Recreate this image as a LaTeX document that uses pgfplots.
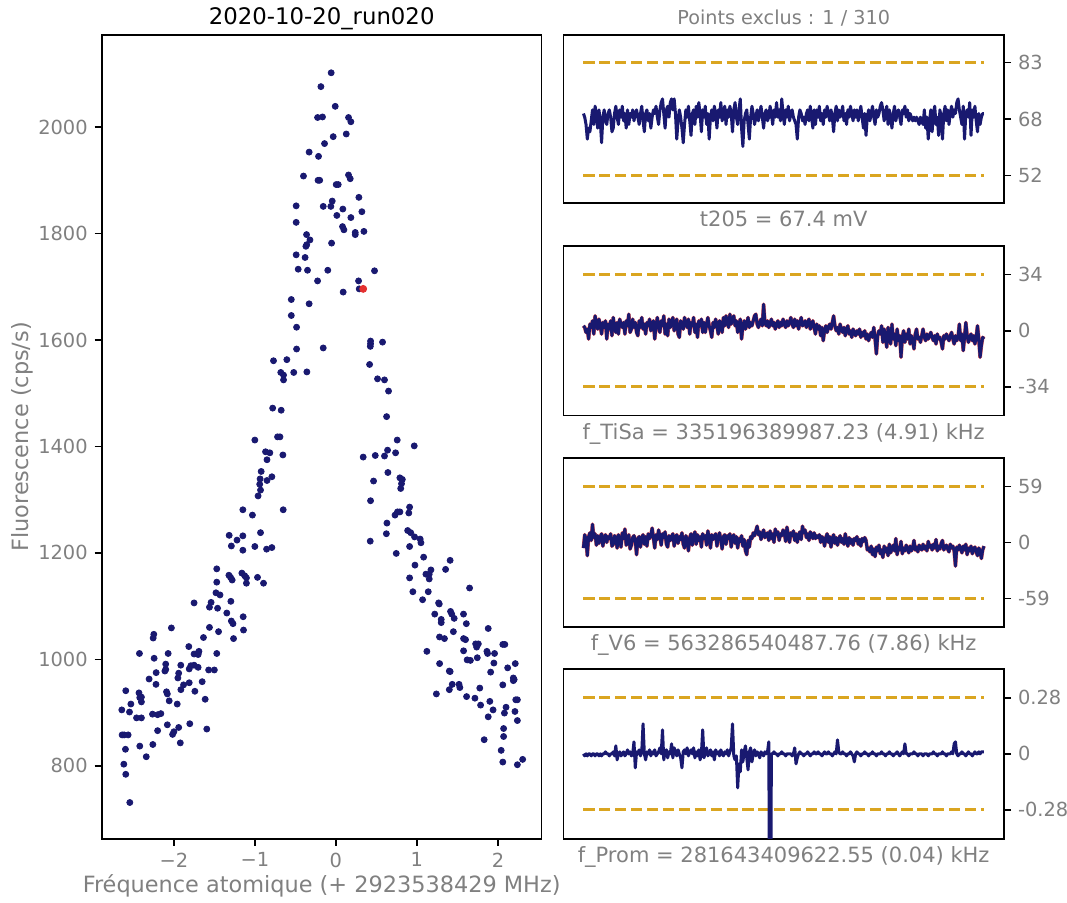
\documentclass[border=0pt]{standalone}
\usepackage{pgfplots}
\pgfplotsset{compat=1.18}
\usepackage{pgfplotstable}
\usepackage{fontspec}
\setmainfont{DejaVu Sans}

\definecolor{navy}{RGB}{25,25,112}
\definecolor{ptred}{RGB}{228,48,48}
\definecolor{halo}{RGB}{240,95,85}
\definecolor{gold}{RGB}{218,165,32}
\definecolor{txt}{RGB}{128,128,128}

\pgfplotsset{
  base/.style={
    scale only axis,
    anchor=south west,
    /pgf/number format/assume math mode=true,
    tick align=outside,
    major tick length=3.5pt,
    tick style={black, line width=0.8pt},
    axis line style={line width=0.8pt},
    ticklabel style={text=txt, font=\fontsize{9.7}{11}\selectfont},
    every axis title shift=0pt,
    every axis title/.style={at={(axis description cs:0.5,1)}, anchor=base, yshift=5.3pt},
  },
  side/.style={base,
    width=220.3pt,
    xmin=-15.45, xmax=324.45,
    xtick=\empty,
    ytick pos=right, yticklabel pos=right,
    xlabel style={at={(0.5,0)}, anchor=base, yshift=-11.8pt, text=txt, font=\fontsize{10.5}{12}\selectfont},
  },
  limit/.style={gold, line width=1.5pt, dash pattern=on 5.55pt off 2.4pt},
  trace/.style={navy, line width=1.5pt, line join=round},
  under/.style={halo, line width=1.85pt, line join=round},
}

% t205 (mV)
\pgfplotstableread[row sep=\\, header=false]{
69\\ 68\\ 66\\ 62\\ 65\\ 64\\ 67\\ 70\\ 66\\ 71\\ 69\\ 65\\ 70\\ 67\\ 61\\ 68\\ 70\\ 67\\ 66\\ 69\\
70\\ 68\\ 64\\ 65\\ 69\\ 71\\ 68\\ 66\\ 70\\ 68\\ 71\\ 67\\ 69\\ 65\\ 70\\ 66\\ 69\\ 68\\ 70\\ 67\\
69\\ 70\\ 68\\ 66\\ 69\\ 71\\ 67\\ 64\\ 69\\ 70\\ 67\\ 69\\ 65\\ 68\\ 70\\ 69\\ 71\\ 68\\ 66\\ 70\\
72\\ 73\\ 69\\ 65\\ 70\\ 71\\ 68\\ 72\\ 73\\ 70\\ 73\\ 69\\ 62\\ 67\\ 70\\ 68\\ 65\\ 61\\ 66\\ 70\\
68\\ 71\\ 67\\ 63\\ 69\\ 70\\ 66\\ 71\\ 68\\ 72\\ 69\\ 64\\ 70\\ 68\\ 71\\ 66\\ 69\\ 62\\ 68\\ 70\\
67\\ 71\\ 69\\ 65\\ 70\\ 68\\ 72\\ 67\\ 69\\ 71\\ 66\\ 70\\ 68\\ 71\\ 69\\ 64\\ 70\\ 72\\ 68\\ 66\\
70\\ 73\\ 65\\ 60\\ 67\\ 69\\ 70\\ 66\\ 62\\ 68\\ 71\\ 69\\ 66\\ 68\\ 70\\ 67\\ 69\\ 71\\ 68\\ 65\\
69\\ 70\\ 67\\ 68\\ 71\\ 69\\ 66\\ 70\\ 68\\ 72\\ 68\\ 70\\ 67\\ 73\\ 69\\ 66\\ 70\\ 68\\ 71\\ 67\\
69\\ 70\\ 68\\ 67\\ 66\\ 62\\ 68\\ 70\\ 69\\ 67\\ 68\\ 66\\ 69\\ 70\\ 67\\ 71\\ 68\\ 65\\ 70\\ 66\\
70\\ 68\\ 71\\ 67\\ 69\\ 66\\ 70\\ 68\\ 71\\ 69\\ 67\\ 70\\ 68\\ 64\\ 69\\ 71\\ 67\\ 70\\ 68\\ 69\\
71\\ 67\\ 69\\ 66\\ 70\\ 68\\ 71\\ 69\\ 67\\ 70\\ 68\\ 70\\ 67\\ 69\\ 71\\ 68\\ 65\\ 69\\ 63\\ 68\\
70\\ 67\\ 69\\ 71\\ 68\\ 66\\ 70\\ 68\\ 69\\ 71\\ 72\\ 70\\ 67\\ 69\\ 71\\ 66\\ 70\\ 68\\ 65\\ 69\\
71\\ 67\\ 69\\ 70\\ 68\\ 66\\ 70\\ 69\\ 71\\ 68\\ 70\\ 67\\ 69\\ 68\\ 67\\ 68\\ 67\\ 68\\ 67\\ 66\\
68\\ 67\\ 66\\ 70\\ 65\\ 68\\ 62\\ 67\\ 70\\ 64\\ 69\\ 71\\ 66\\ 68\\ 63\\ 70\\ 68\\ 62\\ 69\\ 71\\
67\\ 70\\ 66\\ 69\\ 71\\ 68\\ 70\\ 69\\ 72\\ 73\\ 70\\ 68\\ 66\\ 71\\ 62\\ 69\\ 70\\ 68\\ 72\\ 63\\
70\\ 68\\ 71\\ 67\\ 64\\ 69\\ 66\\ 68\\ 69\\ 69\\
}\tabA

% f_TiSa (kHz, offset)
\pgfplotstableread[row sep=\\, header=false]{
3\\ 2\\ -1\\ 1\\ -5\\ 4\\ 2\\ 6\\ -2\\ 9\\ 4\\ 1\\ 7\\ 3\\ -2\\ 5\\ 2\\ 6\\ -5\\ 4\\
1\\ 6\\ -3\\ 8\\ 2\\ -1\\ 5\\ -2\\ 7\\ 4\\ 2\\ 5\\ -2\\ 6\\ 3\\ 10\\ -1\\ 1\\ 7\\ 2\\
5\\ -1\\ -3\\ 6\\ 2\\ 8\\ 1\\ 4\\ -2\\ 5\\ 3\\ 7\\ 0\\ 4\\ 6\\ -5\\ 3\\ 8\\ 2\\ -1\\
6\\ 3\\ 9\\ -2\\ 4\\ -3\\ 7\\ 2\\ 5\\ 8\\ 0\\ 4\\ 7\\ -2\\ -4\\ 6\\ 3\\ 1\\ 8\\ 4\\
2\\ 7\\ -2\\ 5\\ 3\\ 8\\ -1\\ 4\\ -4\\ 6\\ 3\\ 7\\ -1\\ 5\\ -1\\ 4\\ 8\\ 3\\ 0\\ -4\\
5\\ 2\\ 7\\ 3\\ -2\\ 6\\ 4\\ -1\\ 8\\ 3\\ 9\\ 5\\ 2\\ 10\\ 4\\ 7\\ 9\\ 3\\ 6\\ -1\\
4\\ 7\\ -5\\ 3\\ 6\\ 1\\ 4\\ 8\\ 2\\ 5\\ 3\\ 6\\ 9\\ 10\\ 4\\ 2\\ 5\\ 7\\ 3\\ 16\\
5\\ 3\\ 6\\ 2\\ 4\\ 7\\ 3\\ 5\\ 1\\ 4\\ 6\\ 2\\ 5\\ 3\\ 7\\ 4\\ 2\\ 6\\ 3\\ 5\\
8\\ 4\\ 2\\ 7\\ 3\\ 6\\ 1\\ 5\\ 8\\ 3\\ 4\\ 6\\ 2\\ 5\\ 7\\ 1\\ 3\\ 6\\ 2\\ -2\\
4\\ 1\\ 3\\ -3\\ 2\\ -6\\ 0\\ 3\\ -1\\ 2\\ 4\\ 1\\ 5\\ 9\\ 3\\ 0\\ 2\\ -2\\ 4\\ 1\\
-1\\ 2\\ -3\\ 1\\ 3\\ -2\\ 0\\ -4\\ 1\\ -1\\ -3\\ 0\\ -2\\ 1\\ -4\\ -1\\ -3\\ 0\\ -5\\ -2\\
-6\\ -3\\ -1\\ -4\\ 2\\ -5\\ -14\\ -3\\ 0\\ -2\\ 3\\ -7\\ 1\\ -4\\ -10\\ 2\\ -3\\ -8\\ 4\\ -5\\
-2\\ -9\\ 1\\ -6\\ -3\\ -16\\ -4\\ 0\\ -7\\ -2\\ -5\\ 1\\ -8\\ -3\\ -6\\ -11\\ -2\\ 1\\ -5\\ -4\\
-7\\ -3\\ 1\\ -4\\ -6\\ -2\\ -5\\ -3\\ -1\\ -4\\ -6\\ -3\\ -8\\ -2\\ -5\\ -4\\ -7\\ -11\\ -3\\ -5\\
-2\\ -4\\ -6\\ -3\\ -1\\ -5\\ -8\\ -3\\ -6\\ -4\\ 4\\ -6\\ -2\\ -12\\ -4\\ 5\\ -3\\ -7\\ -4\\ -2\\
-6\\ -3\\ -8\\ -4\\ 3\\ -5\\ -16\\ -9\\ -4\\ -5\\
}\tabB

% f_V6 (kHz, offset)
\pgfplotstableread[row sep=\\, header=false]{
-6\\ 8\\ 3\\ -14\\ 6\\ 10\\ 2\\ 19\\ 5\\ 9\\ -3\\ 7\\ -1\\ 6\\ 9\\ -4\\ 5\\ 8\\ 0\\ 6\\
4\\ 9\\ -4\\ -2\\ 7\\ 5\\ -6\\ 8\\ 3\\ -5\\ 10\\ 4\\ 14\\ -3\\ 1\\ 8\\ -7\\ -3\\ 5\\ 7\\
2\\ -13\\ 4\\ 6\\ -5\\ 5\\ 8\\ -2\\ 6\\ -4\\ 9\\ 4\\ 7\\ 15\\ 5\\ -6\\ 8\\ 3\\ 13\\ 6\\
-3\\ 9\\ 5\\ 11\\ -2\\ -5\\ 7\\ 2\\ 6\\ 9\\ -4\\ 5\\ 8\\ -1\\ 6\\ 3\\ 10\\ -2\\ -6\\ 7\\
3\\ -9\\ 5\\ 9\\ -3\\ 6\\ 11\\ -2\\ 8\\ 2\\ 6\\ -5\\ 9\\ 4\\ 7\\ -3\\ 12\\ 5\\ -6\\ 8\\
3\\ 6\\ 9\\ -4\\ 5\\ 10\\ 3\\ -7\\ 6\\ 8\\ -2\\ 7\\ 4\\ 9\\ -5\\ 5\\ 8\\ -1\\ 6\\ -6\\
4\\ 1\\ 7\\ -4\\ 3\\ -9\\ -13\\ 2\\ -5\\ 6\\ 4\\ 10\\ 7\\ 12\\ 17\\ 8\\ 11\\ 3\\ 9\\ 13\\
5\\ 8\\ 10\\ 2\\ 12\\ 4\\ 9\\ 0\\ 14\\ 8\\ 11\\ 2\\ 9\\ 7\\ 13\\ 10\\ 1\\ 16\\ 8\\ 0\\
10\\ 7\\ 12\\ 2\\ 9\\ 0\\ 8\\ 11\\ 3\\ 17\\ 10\\ 13\\ 5\\ 9\\ 2\\ 11\\ 8\\ 4\\ 10\\ 4\\
7\\ 5\\ 8\\ 0\\ 6\\ 4\\ -4\\ 5\\ 9\\ 0\\ 6\\ -5\\ 4\\ 8\\ -1\\ 5\\ -3\\ 3\\ 7\\ 0\\
4\\ -2\\ 9\\ 2\\ -4\\ 5\\ -1\\ 3\\ -3\\ 4\\ 2\\ 6\\ -2\\ 3\\ -4\\ 4\\ 1\\ 5\\ 2\\ -8\\
-6\\ -10\\ -4\\ -13\\ -7\\ -15\\ -5\\ -9\\ -3\\ -12\\ -8\\ -16\\ -4\\ -10\\ -6\\ -14\\ -2\\ -11\\ -7\\ -3\\
-9\\ 4\\ -13\\ -5\\ -8\\ 1\\ -12\\ -6\\ -9\\ -3\\ -7\\ -11\\ -4\\ -9\\ -6\\ 2\\ -8\\ -5\\ -10\\ -3\\
-6\\ -8\\ -2\\ -7\\ -4\\ -9\\ 1\\ -5\\ -3\\ -8\\ -2\\ -6\\ 3\\ -9\\ -4\\ -7\\ -1\\ 2\\ -8\\ -5\\
-3\\ -7\\ -10\\ -2\\ -6\\ -4\\ -9\\ -25\\ -5\\ -8\\ -3\\ -7\\ -11\\ -4\\ -8\\ -2\\ -13\\ -6\\ -9\\ -4\\
-12\\ -7\\ -5\\ -10\\ -14\\ -6\\ -9\\ -17\\ -8\\ -4\\
}\tabC

% f_Prom (units of 0.01 kHz)
\pgfplotstableread[row sep=\\, header=false]{
0\\ -1\\ 0\\ -1\\ 0\\ 0\\ -1\\ 0\\ 0\\ -1\\ 0\\ 0\\ -1\\ 0\\ -1\\ 0\\ 0\\ 1\\ 0\\ 0\\
-1\\ 0\\ 0\\ 1\\ -1\\ 4\\ -3\\ 0\\ 1\\ -1\\ 0\\ 1\\ -1\\ 0\\ 2\\ 0\\ 1\\ -1\\ 0\\ 6\\
-7\\ 1\\ 0\\ 2\\ -1\\ 1\\ 15\\ 0\\ -3\\ 1\\ 0\\ 2\\ -1\\ 1\\ 0\\ 2\\ -1\\ 0\\ 1\\ 3\\
0\\ 12\\ -3\\ 1\\ 2\\ -2\\ 1\\ 0\\ 5\\ -2\\ 3\\ 1\\ -1\\ 2\\ 0\\ -2\\ -7\\ 1\\ 2\\ 0\\
3\\ -1\\ 1\\ 2\\ 0\\ 3\\ -2\\ 1\\ -1\\ 2\\ -3\\ 0\\ 12\\ -2\\ 1\\ 3\\ -1\\ 0\\ 2\\ -1\\
1\\ -3\\ 2\\ 0\\ 1\\ -1\\ 2\\ 0\\ -1\\ 1\\ 0\\ 2\\ -1\\ 1\\ 3\\ 15\\ -1\\ -3\\ -1\\ -17\\
-5\\ -9\\ 2\\ -4\\ 1\\ 4\\ -2\\ -8\\ 1\\ 3\\ -4\\ 0\\ 2\\ -1\\ 1\\ 0\\ -2\\ 1\\ 0\\ -1\\
1\\ 0\\ 1\\ 6\\ -150\\ 0\\ 0\\ 1\\ 0\\ 0\\ -1\\ 0\\ 0\\ 1\\ 0\\ 0\\ -1\\ 0\\ 0\\ 0\\
0\\ -1\\ 0\\ 3\\ -5\\ -2\\ 0\\ 1\\ 0\\ 0\\ -1\\ 0\\ 0\\ 1\\ 0\\ -1\\ 0\\ 0\\ 1\\ 0\\
0\\ 1\\ 0\\ 0\\ -1\\ 0\\ 1\\ 0\\ 0\\ 1\\ 0\\ 0\\ -1\\ 0\\ 1\\ 0\\ 7\\ 1\\ 0\\ 0\\
1\\ 0\\ 0\\ -1\\ 0\\ 0\\ 1\\ 0\\ -1\\ -4\\ 0\\ 1\\ 0\\ 0\\ -1\\ 0\\ 0\\ 1\\ 0\\ 0\\
-1\\ 0\\ 0\\ 1\\ 0\\ 0\\ -1\\ 0\\ 0\\ 0\\ 1\\ 0\\ 0\\ -1\\ 0\\ 0\\ 1\\ 0\\ 0\\ -1\\
0\\ 0\\ 1\\ 0\\ -1\\ 0\\ 1\\ 0\\ 5\\ 0\\ 0\\ -1\\ 0\\ 0\\ 0\\ 1\\ 0\\ 0\\ -1\\ 0\\
0\\ 0\\ -1\\ 0\\ 0\\ 0\\ -1\\ 0\\ 0\\ 0\\ 1\\ 0\\ 0\\ -1\\ 0\\ 0\\ 0\\ 1\\ 0\\ 0\\
-1\\ 0\\ 0\\ 0\\ 1\\ 0\\ 5\\ 6\\ 0\\ -1\\ 0\\ 0\\ 1\\ 0\\ 0\\ -1\\ 0\\ 1\\ 0\\ 0\\
-1\\ 0\\ 1\\ 0\\ 0\\ 1\\ 0\\ 1\\ 1\\ 1\\
}\tabD

% scatter: frequency offset (MHz), fluorescence (cps/s)
\pgfplotstableread[row sep=\\]{
f y\\
-0.058 2102\\ -0.185 2076\\ -0.008 2039\\ -0.226 2018\\ -0.165 2019\\ 0.156 2018\\ 0.185 2010\\
-0.033 1982\\ 0.128 1987\\ -0.14 1969\\ -0.33 1953\\ -0.214 1945\\ -0.40 1908\\ -0.22 1900\\
-0.20 1900\\ 0.156 1910\\ 0.177 1903\\ 0.004 1892\\ 0.029 1892\\ 0.284 1868\\ -0.49 1852\\
-0.156 1851\\ -0.062 1851\\ -0.045 1861\\ 0.086 1846\\ 0.321 1841\\ 0.012 1834\\ 0.185 1830\\
-0.49 1821\\ 0.082 1813\\ 0.099 1807\\ 0.239 1802\\ 0.239 1798\\ 0.346 1804\\ -0.362 1798\\
-0.32 1788\\ -0.37 1776\\ -0.36 1779\\ -0.053 1782\\ -0.49 1760\\ -0.38 1755\\ -0.465 1733\\
-0.35 1731\\ -0.10 1731\\ 0.477 1730\\ -0.226 1711\\ 0.28 1711\\ 0.09 1690\\ 0.288 1696\\
-0.55 1676\\ -0.33 1668\\ -0.55 1646\\ -0.485 1624\\ -0.485 1583\\ -0.156 1585\\ 0.428 1598\\
0.428 1593\\ 0.425 1588\\ 0.576 1596\\ -0.77 1561\\ -0.605 1563\\ -0.68 1539\\ -0.646 1534\\
-0.646 1525\\ -0.52 1539\\ -0.358 1540\\ 0.416 1554\\ 0.514 1527\\ 0.60 1525\\ 0.65 1504\\
-0.78 1472\\ -0.675 1468\\ 0.626 1456\\
-1.00 1412\\ -0.72 1418\\ -0.69 1418\\ -0.654 1384\\ -0.868 1390\\ -0.815 1388\\ -0.85 1375\\
-0.922 1353\\ -0.79 1343\\ -0.85 1336\\ -0.935 1339\\ -0.94 1329\\ -0.93 1318\\ -0.96 1307\\
-0.65 1281\\ -1.148 1281\\ -1.03 1271\\ -0.93 1238\\ -1.317 1233\\ -1.148 1232\\ -1.22 1224\\
-1.29 1213\\ -1.00 1212\\ -1.148 1205\\ -0.855 1207\\ -0.79 1210\\ -1.47 1170\\ -1.32 1158\\
-1.30 1154\\ -1.28 1149\\ -1.16 1162\\ -1.125 1157\\ -1.104 1153\\ -1.104 1143\\ -0.967 1154\\
-0.893 1143\\ -1.47 1145\\ -1.48 1125\\ -1.43 1121\\ -1.75 1106\\ -1.54 1107\\ -1.56 1098\\
-1.46 1096\\ -1.296 1109\\ -1.346 1087\\ -1.29 1072\\ -1.27 1067\\ -1.144 1080\\ -1.14 1055\\
-1.263 1039\\ -2.03 1059\\ -2.247 1047\\ -2.255 1040\\ -1.56 1060\\ -1.634 1041\\ -1.448 1052\\
-2.424 1011\\ -2.07 1011\\ -1.815 1024\\ -1.75 1010\\ -1.70 1012\\ -1.69 1015\\ -1.70 1009\\
-1.47 1011\\ -2.243 1002\\ -2.10 991\\ -2.10 981\\ -2.11 978\\ -2.218 975\\ -1.914 989\\
-1.94 974\\ -1.95 965\\ -1.79 988\\ -1.75 989\\ -1.81 982\\ -1.70 985\\ -1.57 980\\ -1.50 980\\
-2.305 963\\ -2.22 953\\ -1.88 952\\ -1.913 943\\ -1.81 956\\ -1.65 958\\ -1.74 940\\
-2.09 939\\ -2.08 935\\ -2.057 922\\ -1.958 916\\ -1.613 925\\ -2.593 941\\ -2.43 937\\
-2.40 929\\ -2.42 928\\ -2.40 920\\ -2.53 916\\ -2.642 905\\ -2.547 901\\ -2.46 890\\ -2.40 890\\
-2.263 897\\ -2.20 896\\ -2.16 898\\ -2.08 877\\ -2.20 866\\ -2.015 859\\ -1.999 864\\ -1.94 872\\
-1.803 879\\ -1.593 869\\ -2.638 858\\ -2.613 858\\ -2.564 858\\ -1.92 843\\ -2.259 840\\
-2.42 837\\ -2.34 817\\ -2.597 831\\ -2.617 803\\ -2.593 784\\ -2.543 731\\
0.757 1412\\ 0.967 1401\\ 0.638 1393\\ 0.737 1388\\ 0.60 1382\\ 0.486 1383\\ 0.337 1380\\
0.642 1351\\ 0.465 1335\\ 0.79 1341\\ 0.82 1338\\ 0.81 1330\\ 0.80 1321\\ 0.428 1298\\
0.91 1286\\ 0.90 1275\\ 0.73 1271\\ 0.76 1277\\ 0.79 1277\\ 0.63 1256\\ 0.623 1236\\
0.886 1242\\ 0.923 1238\\ 0.971 1230\\ 1.04 1226\\ 1.05 1219\\ 0.424 1222\\ 0.91 1212\\
0.745 1199\\ 1.083 1192\\ 0.976 1177\\ 1.41 1186\\ 1.354 1169\\ 1.173 1168\\ 1.152 1160\\
1.111 1160\\ 1.152 1151\\ 0.91 1153\\ 1.65 1134\\ 0.95 1127\\ 1.14 1127\\ 1.07 1112\\
1.268 1106\\ 1.276 1104\\ 1.22 1085\\ 1.415 1090\\ 1.43 1085\\ 1.30 1075\\ 1.30 1069\\
1.46 1077\\ 1.575 1085\\ 1.61 1067\\ 1.88 1058\\ 1.45 1052\\ 1.279 1042\\ 1.34 1039\\
1.576 1039\\ 1.60 1037\\ 1.725 1029\\ 1.758 1029\\ 1.737 1023\\ 2.06 1028\\ 2.085 1028\\
1.123 1015\\ 1.576 1016\\ 1.864 1015\\ 1.872 1011\\ 1.958 1011\\ 1.745 1003\\ 1.62 999\\
1.66 998\\ 2.214 992\\ 2.12 984\\ 1.28 992\\ 1.40 978\\ 1.41 977\\ 1.95 993\\ 1.91 976\\
2.19 965\\ 2.19 960\\ 2.20 962\\ 1.436 953\\ 1.40 943\\ 1.52 953\\ 1.53 947\\ 1.776 946\\
2.06 952\\ 1.24 935\\ 1.613 930\\ 1.716 927\\ 1.786 914\\ 1.90 921\\ 2.22 924\\ 2.24 924\\
2.10 910\\ 2.08 899\\ 1.94 905\\ 1.88 892\\ 2.21 902\\ 2.24 885\\ 2.07 870\\ 2.07 855\\
1.83 849\\ 2.04 829\\ 2.06 807\\ 2.24 802\\ 2.305 812\\
}\scan

\begin{document}
\begin{tikzpicture}
\useasboundingbox (0,0) rectangle (533.5pt,451pt);

% main scan
\begin{axis}[base,
  at={(50.85pt,31.65pt)}, width=220pt, height=401.85pt,
  xmin=-2.89, xmax=2.54, ymin=663, ymax=2173,
  xtick={-2,-1,0,1,2}, xticklabels={−2,−1,0,1,2},
  ytick={800,1000,1200,1400,1600,1800,2000},
  yticklabels={800,1000,1200,1400,1600,1800,2000},
  xtick pos=bottom, ytick pos=left,
  title={2020-10-20\_run020}, title style={text=black, font=\fontsize{11.4}{13}\selectfont},
  xlabel={Fréquence atomique (+ 2923538429 MHz)},
  ylabel={Fluorescence (cps/s)},
  every axis x label/.style={at={(axis description cs:0.5,0)}, anchor=base, yshift=-27pt,
    text=txt, font=\fontsize{11.2}{13}\selectfont},
  every axis y label/.style={at={(axis description cs:-0.1673,0.5)}, rotate=90, anchor=base,
    text=txt, font=\fontsize{11.2}{13}\selectfont},
]
\addplot[only marks, mark=*, mark size=1.5pt, color=navy] table[x=f, y=y] {\scan};
\addplot[only marks, mark=*, mark size=1.75pt, color=ptred] coordinates {(0.337,1696)};
\end{axis}

% t205
\begin{axis}[side, at={(281.7pt,349.5pt)}, height=84pt,
  ymin=44.5, ymax=90.5,
  ytick={52,67.5,83}, yticklabels={52,68,83},
  title={Points exclus : 1 / 310}, title style={text=txt, font=\fontsize{9.6}{11}\selectfont},
  xlabel={t205 = 67.4 mV},
]
\addplot[limit] coordinates {(0,83) (309,83)};
\addplot[limit] coordinates {(0,52) (309,52)};
\addplot[trace] table[x expr=\coordindex, y index=0] {\tabA};
\end{axis}

% f_TiSa
\begin{axis}[side, at={(281.7pt,243.25pt)}, height=84.75pt,
  ymin=-51.3, ymax=51.3,
  ytick={-34,0,34}, yticklabels={-34,0,34},
  xlabel={f\_TiSa = 335196389987.23 (4.91) kHz},
]
\addplot[limit] coordinates {(0,34) (309,34)};
\addplot[limit] coordinates {(0,-34) (309,-34)};
\addplot[under] table[x expr=\coordindex, y index=0] {\tabB};
\addplot[trace] table[x expr=\coordindex, y index=0] {\tabB};
\end{axis}

% f_V6
\begin{axis}[side, at={(281.7pt,137.65pt)}, height=84.35pt,
  ymin=-88.9, ymax=88.9,
  ytick={-59,0,59}, yticklabels={-59,0,59},
  xlabel={f\_V6 = 563286540487.76 (7.86) kHz},
]
\addplot[limit] coordinates {(0,59) (309,59)};
\addplot[limit] coordinates {(0,-59) (309,-59)};
\addplot[under] table[x expr=\coordindex, y index=0] {\tabC};
\addplot[trace] table[x expr=\coordindex, y index=0] {\tabC};
\end{axis}

% f_Prom
\begin{axis}[side, at={(281.7pt,31.65pt)}, height=84.85pt,
  ymin=-42.4, ymax=42.4,
  ytick={-28,0,28}, yticklabels={-0.28,0,0.28},
  xlabel={f\_Prom = 281643409622.55 (0.04) kHz},
]
\addplot[limit] coordinates {(0,28) (309,28)};
\addplot[limit] coordinates {(0,-28) (309,-28)};
\addplot[trace] table[x expr=\coordindex, y index=0] {\tabD};
\end{axis}
\end{tikzpicture}
\end{document}
